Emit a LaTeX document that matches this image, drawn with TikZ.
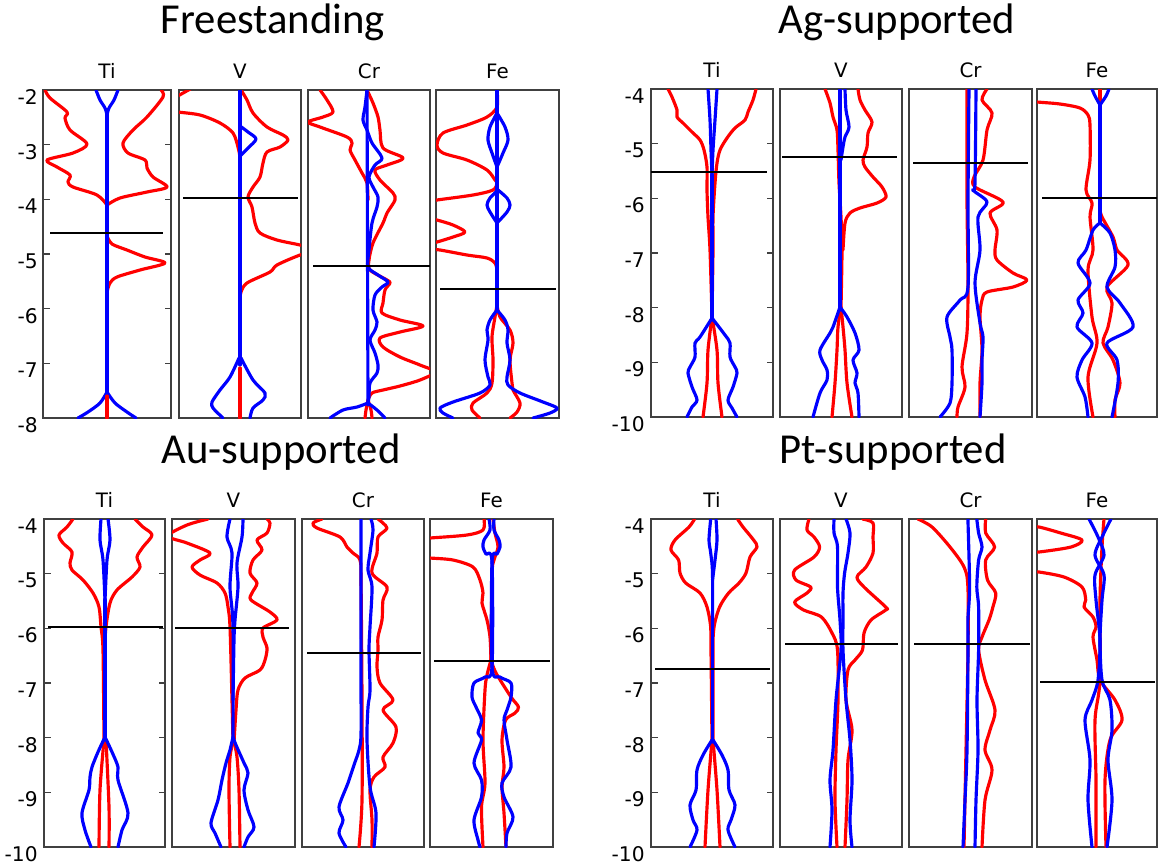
\documentclass[tikz,border=0pt]{standalone}
\usepackage{fontspec}
\setmainfont{DejaVu Sans}
\newfontfamily\headfont{Carlito}

\tikzset{
  spinup/.style={red, line width=1.8pt, line join=round, line cap=round},
  spindn/.style={blue, line width=1.8pt, line join=round, line cap=round},
  fermi/.style={black, line width=1.1pt},
  frame/.style={draw=black!75, line width=0.7pt},
  ticklab/.style={anchor=east, inner sep=0pt, font=\fontsize{11.5}{13}\selectfont},
  elem/.style={inner sep=0pt, font=\fontsize{11.3}{13}\selectfont},
  head/.style={anchor=base, inner sep=0pt, font=\headfont\fontsize{24.3}{28}\selectfont}
}

\begin{document}
\begin{tikzpicture}[x=0.02cm, y=-0.02cm]
\useasboundingbox (0,0) rectangle (1159,867);

% titles
\node[head] (tfree) at (273,33) {Freestanding};
\node[head] (tag) at (897,33) {Ag-supported};
\node[head] (tau) at (281,463) {Au-supported};
\node[head] (tpt) at (893,463) {Pt-supported};

% frames and element labels
\foreach \xa/\xb/\el/\nm in {43/171/Ti/a, 179/301/V/b, 308/430/Cr/c, 436/559/Fe/d}
  {\draw[frame] (\xa,90) rectangle (\xb,418);
   \node[elem] (fs-\nm) at ({(\xa+\xb)/2},71) {\el};}
\foreach \xa/\xb/\el/\nm in {651/773/Ti/a, 780/902/V/b, 909/1032/Cr/c, 1037/1157/Fe/d}
  {\draw[frame] (\xa,89) rectangle (\xb,417);
   \node[elem] (ag-\nm) at ({(\xa+\xb)/2},70) {\el};}
\foreach \xa/\xb/\el/\nm in {44/165/Ti/a, 172/295/V/b, 302/424/Cr/c, 430/553/Fe/d}
  {\draw[frame] (\xa,519) rectangle (\xb,847);
   \node[elem] (au-\nm) at ({(\xa+\xb)/2},500) {\el};}
\foreach \xa/\xb/\el/\nm in {651/773/Ti/a, 780/902/V/b, 909/1032/Cr/c, 1037/1157/Fe/d}
  {\draw[frame] (\xa,519) rectangle (\xb,847);
   \node[elem] (pt-\nm) at ({(\xa+\xb)/2},500) {\el};}

% energy axes
\foreach \e [count=\k from 0] in {-2,-3,-4,-5,-6,-7,-8}
  {\draw[frame] (43,{90+\k*54.67}) -- ++(7,0) (171,{90+\k*54.67}) -- ++(-6,0);
   \node[ticklab] (fs-y\k) at (38,{97+\k*54.67}) {\e};}
\foreach \e [count=\k from 0] in {-4,-5,-6,-7,-8,-9,-10}
  {\draw[frame] (651,{89+\k*54.67}) -- ++(7,0) (773,{89+\k*54.67}) -- ++(-6,0);
   \node[ticklab] (ag-y\k) at (645,{96+\k*54.67}) {\e};
   \draw[frame] (44,{519+\k*54.67}) -- ++(7,0) (165,{519+\k*54.67}) -- ++(-6,0);
   \node[ticklab] (au-y\k) at (38,{526+\k*54.67}) {\e};
   \draw[frame] (651,{519+\k*54.67}) -- ++(7,0) (773,{519+\k*54.67}) -- ++(-6,0);
   \node[ticklab] (pt-y\k) at (645,{526+\k*54.67}) {\e};}

%%%% Freestanding
% Ti
\begin{scope}
\clip (43,90) rectangle (171,418);
\draw[spinup] plot[smooth] coordinates {(45,90) (50,98) (67,112) (65,118) (70,130) (87,144) (73,153) (47,160) (57,167) (70,175) (68,182) (73,187) (97,195) (107,205)};
\draw[spinup] plot[smooth] coordinates {(161,90) (163,97) (147,117) (133,130) (123,143) (128,153) (145,160) (147,168) (153,177) (167,187) (147,192) (120,198) (107,205)};
\draw[spinup] plot[smooth] coordinates {(107,236) (112,244) (127,250) (145,257) (165,263) (140,270) (117,277) (110,283) (107,292)};
\draw[spindn] plot[smooth] coordinates {(96,90) (100,100) (105,108) (107,115)};
\draw[spindn] plot[smooth] coordinates {(118,90) (114,100) (109,108) (107,115)};
\draw[spindn] (107,112) -- (107,393);
\draw[spindn] plot[smooth] coordinates {(107,392) (100,403) (88,412) (78,418)};
\draw[spindn] plot[smooth] coordinates {(107,392) (115,403) (127,412) (136,418)};
\draw[spinup] (107,396) -- (107,418);
\end{scope}
\draw[fermi] (50,233) -- (163,233);
% V
\begin{scope}
\clip (179,90) rectangle (301,418);
\draw[spinup] (176,97) -- (192,88);
\draw[spinup] plot[smooth] coordinates {(175,111) (178,112) (200,115) (220,123) (233,133) (238,147) (240,157)};
\draw[spinup] plot[smooth] coordinates {(241,90) (247,100) (253,113) (267,127) (283,135) (288,140) (280,147) (267,152) (263,163) (260,177) (253,187) (248,197) (252,207) (255,223) (260,233) (277,240) (300,245) (318,250) (300,255) (277,265) (270,272) (247,283) (241,292) (240,300)};
\draw[spindn] (240,90) -- (240,365);
\draw[spindn] plot[smooth] coordinates {(240,126) (248,132) (256,139) (248,148) (240,156)};
\draw[spindn] plot[smooth] coordinates {(239,358) (230,377) (220,390) (212,402) (213,408) (223,418)};
\draw[spindn] plot[smooth] coordinates {(241,358) (253,380) (265,393) (263,400) (253,408) (250,418)};
\draw[spinup] (240,368) -- (240,418);
\end{scope}
\draw[fermi] (183,198) -- (298,198);
% Cr
\begin{scope}
\clip (308,90) rectangle (430,418);
\draw[spinup] plot[smooth] coordinates {(320,90) (327,100) (333,112) (323,117) (308,122) (320,127) (347,137) (352,143) (350,150) (355,160) (362,173) (367,183) (368,200)};
\draw[spinup] plot[smooth] coordinates {(367,90) (373,103) (378,117) (380,130) (383,148) (403,158) (387,165) (375,170) (380,180) (393,193) (395,200) (387,213) (383,223) (373,243) (369,260) (370,270) (387,280) (390,283) (385,290) (383,303) (382,313) (400,320) (423,326) (400,332) (380,338) (383,347) (400,357) (420,365) (435,372) (420,380) (400,386) (383,390) (372,393) (368,400)};
\draw[spinup] plot[smooth] coordinates {(368,400) (366,410) (365,418)};
\draw[spinup] plot[smooth] coordinates {(368,400) (371,410) (372,418)};
\draw[spindn] (367,90) -- (368,405);
\draw[spindn] plot[smooth] coordinates {(367,90) (365,107) (363,120) (367,130) (372,143) (382,158) (375,165) (369,177) (373,187) (378,197) (377,207) (372,223) (369,250) (368,267) (378,275) (388,282) (382,287) (375,295) (373,310) (377,322) (375,330) (370,340) (375,353) (378,365) (377,373) (370,383) (369,397) (368,403)};
\draw[spindn] plot[smooth] coordinates {(368,403) (357,407) (343,410) (330,418)};
\draw[spindn] plot[smooth] coordinates {(368,403) (377,410) (385,418)};
\end{scope}
\draw[fermi] (313,266) -- (430,266);
% Fe
\begin{scope}
\clip (436,90) rectangle (559,418);
\draw[spinup] plot[smooth] coordinates {(497,90) (497,107) (487,117) (467,125) (443,133) (437,145) (443,153) (467,160) (487,170) (495,180) (497,183) (493,190) (473,195) (437,200) (427,202)};
\draw[spinup] plot[smooth] coordinates {(425,217) (437,220) (453,225) (465,232) (453,237) (437,242) (425,245)};
\draw[spinup] plot[smooth] coordinates {(428,249) (440,250) (467,255) (487,258) (495,263) (497,270)};
\draw[spinup] plot[smooth] coordinates {(497,305) (495,317) (492,337) (493,360) (492,383) (487,393) (473,403) (472,410) (480,418)};
\draw[spinup] plot[smooth] coordinates {(497,305) (500,317) (510,330) (513,343) (510,360) (512,383) (513,390) (520,403) (517,412) (510,418)};
\draw[spindn] (497,90) -- (497,310);
\draw[spindn] plot[smooth] coordinates {(497,113) (490,127) (488,140) (492,153) (497,167)};
\draw[spindn] plot[smooth] coordinates {(497,113) (505,127) (508,140) (503,153) (497,167)};
\draw[spindn] plot[smooth] coordinates {(498,190) (490,198) (487,205) (490,212) (497,223)};
\draw[spindn] plot[smooth] coordinates {(498,190) (507,198) (510,205) (507,212) (497,223)};
\draw[spindn] plot[smooth] coordinates {(497,310) (490,320) (487,330) (488,340) (485,360) (488,377) (490,385) (480,393) (453,402) (440,408) (443,413) (453,418)};
\draw[spindn] plot[smooth] coordinates {(497,310) (505,320) (508,330) (507,343) (510,360) (507,377) (508,385) (520,393) (543,402) (557,408) (550,413) (533,418)};
\end{scope}
\draw[fermi] (440,289) -- (556,289);

%%%% Ag-supported
% Ti
\begin{scope}
\clip (651,89) rectangle (773,417);
\draw[spinup] plot[smooth] coordinates {(668,89) (672,97) (677,110) (677,117) (683,123) (692,132) (700,140) (704,150) (707,167) (707,190) (708,217) (710,250) (712,317)};
\draw[spinup] plot[smooth] coordinates {(756,89) (753,100) (748,112) (745,120) (735,128) (727,138) (720,150) (717,163) (715,183) (713,217) (713,250) (712,317)};
\draw[spinup] plot[smooth] coordinates {(712,317) (708,350) (707,383) (703,417)};
\draw[spinup] plot[smooth] coordinates {(712,317) (717,350) (718,383) (722,417)};
\draw[spindn] plot[smooth] coordinates {(708,89) (710,120) (711,150) (712,175)};
\draw[spindn] plot[smooth] coordinates {(717,89) (715,120) (713,150) (712,175)};
\draw[spindn] (712,175) -- (712,320);
\draw[spindn] plot[smooth] coordinates {(712,318) (700,337) (695,343) (695,357) (690,367) (688,373) (692,387) (697,400) (692,407) (687,417)};
\draw[spindn] plot[smooth] coordinates {(712,318) (725,335) (730,343) (730,357) (735,367) (737,373) (733,387) (728,400) (732,408) (737,417)};
\end{scope}
\draw[fermi] (651,172) -- (767,172);
% V
\begin{scope}
\clip (780,89) rectangle (902,417);
\draw[spinup] plot[smooth] coordinates {(825,89) (830,103) (833,117) (837,130) (838,150) (839,183) (841,217) (842,250) (841,307)};
\draw[spinup] plot[smooth] coordinates {(858,89) (860,100) (865,110) (872,122) (868,133) (867,147) (863,160) (865,167) (873,177) (882,187) (886,197) (877,203) (860,208) (850,213) (845,223) (843,250)};
\draw[spinup] plot[smooth] coordinates {(841,307) (838,327) (837,350) (835,383) (832,417)};
\draw[spinup] plot[smooth] coordinates {(841,307) (843,327) (845,350) (847,383) (852,417)};
\draw[spindn] (840,89) -- (840,310);
\draw[spindn] plot[smooth] coordinates {(845,89) (846,110) (849,127) (845,137) (843,147) (841,160)};
\draw[spindn] plot[smooth] coordinates {(840,307) (833,327) (830,333) (820,350) (822,360) (827,370) (827,380) (820,393) (813,417)};
\draw[spindn] plot[smooth] coordinates {(840,307) (847,317) (855,333) (859,350) (853,360) (857,373) (855,383) (858,393) (859,417)};
\end{scope}
\draw[fermi] (782,157) -- (897,157);
% Cr
\begin{scope}
\clip (909,89) rectangle (1032,417);
\draw[spinup] plot[smooth] coordinates {(967,89) (967,200) (968,283) (967,333) (962,367) (965,387) (958,407) (957,417)};
\draw[spinup] plot[smooth] coordinates {(987,89) (982,100) (992,113) (987,130) (983,160) (974,177) (975,187) (1003,202) (990,213) (997,230) (995,250) (997,260) (1013,273) (1027,280) (1013,287) (987,292) (982,300) (980,317) (982,350) (980,383) (980,417)};
\draw[spindn] plot[smooth] coordinates {(969,89) (968,200) (968,287) (960,300) (947,317) (950,337) (952,350) (952,383) (950,403) (940,417)};
\draw[spindn] plot[smooth] coordinates {(976,89) (975,183) (973,190) (987,202) (978,217) (980,250) (975,283) (980,323) (983,337) (982,360) (982,383) (980,417)};
\end{scope}
\draw[fermi] (913,163) -- (1028,163);
% Fe
\begin{scope}
\clip (1037,89) rectangle (1157,417);
\draw[spinup] (1100,89) -- (1100,217);
\draw[spinup] plot[smooth] coordinates {(1028,101) (1037,102) (1060,104) (1080,108) (1088,115) (1090,125) (1090,160) (1086,190) (1092,203) (1090,217) (1093,250) (1088,270) (1092,317) (1097,343) (1088,377) (1093,417)};
\draw[spinup] plot[smooth] coordinates {(1100,210) (1102,217) (1113,237) (1117,250) (1128,265) (1107,287) (1112,303) (1108,327) (1103,343) (1113,360) (1120,383) (1115,400) (1115,417)};
\draw[spindn] plot[smooth] coordinates {(1092,89) (1095,96) (1100,105)};
\draw[spindn] plot[smooth] coordinates {(1109,89) (1106,96) (1100,105)};
\draw[spindn] (1100,105) -- (1100,223);
\draw[spindn] plot[smooth] coordinates {(1100,223) (1093,230) (1086,250) (1078,263) (1090,283) (1078,300) (1083,313) (1077,327) (1092,343) (1082,360) (1077,377) (1085,397) (1088,417)};
\draw[spindn] plot[smooth] coordinates {(1100,223) (1110,233) (1115,250) (1115,267) (1107,287) (1120,303) (1133,327) (1107,343) (1117,360) (1118,383) (1112,417)};
\end{scope}
\draw[fermi] (1042,198) -- (1157,198);

%%%% Au-supported
% Ti
\begin{scope}
\clip (44,519) rectangle (165,847);
\draw[spinup] plot[smooth] coordinates {(73,519) (67,527) (59,535) (63,543) (72,552) (70,563) (72,570) (83,580) (93,593) (99,607) (101,627) (103,650) (104,740)};
\draw[spinup] plot[smooth] coordinates {(135,519) (143,527) (152,535) (143,547) (137,557) (140,567) (132,577) (117,590) (110,603) (106,627) (105,650) (105,740)};
\draw[spinup] plot[smooth] coordinates {(104,740) (100,790) (99,847)};
\draw[spinup] plot[smooth] coordinates {(106,740) (109,807) (109,847)};
\draw[spindn] plot[smooth] coordinates {(101,519) (100,540) (103,560) (105,600)};
\draw[spindn] plot[smooth] coordinates {(108,519) (110,540) (107,560) (105,600)};
\draw[spindn] (105,600) -- (105,740);
\draw[spindn] plot[smooth] coordinates {(105,737) (98,752) (92,767) (90,777) (89,790) (82,813) (85,830) (91,847)};
\draw[spindn] plot[smooth] coordinates {(105,737) (112,752) (118,767) (118,780) (128,813) (122,830) (118,847)};
\end{scope}
\draw[fermi] (48,627) -- (163,627);
% V
\begin{scope}
\clip (172,519) rectangle (295,847);
\draw[spinup] plot[smooth] coordinates {(208,519) (187,525) (168,536) (187,543) (210,553) (200,560) (192,567) (200,575) (217,583) (225,593) (228,607) (230,627) (232,700) (233,742)};
\draw[spinup] plot[smooth] coordinates {(267,519) (270,523) (267,533) (257,540) (262,550) (253,560) (250,573) (257,583) (252,593) (251,600) (270,612) (277,620) (263,628) (263,637) (267,648) (265,660) (260,670) (245,678) (238,690) (236,710) (234,742)};
\draw[spinup] plot[smooth] coordinates {(233,742) (230,757) (229,790) (230,847)};
\draw[spinup] plot[smooth] coordinates {(234,742) (237,757) (239,790) (240,847)};
\draw[spindn] plot[smooth] coordinates {(230,519) (227,537) (232,553) (230,587) (233,627) (233,737)};
\draw[spindn] plot[smooth] coordinates {(243,519) (242,537) (237,563) (238,587) (235,620) (234,640) (233,700)};
\draw[spindn] plot[smooth] coordinates {(233,737) (230,750) (226,763) (222,780) (218,800) (211,823) (215,833) (221,847)};
\draw[spindn] plot[smooth] coordinates {(233,737) (236,745) (244,763) (248,773) (244,790) (248,810) (254,827) (248,837) (244,847)};
\end{scope}
\draw[fermi] (175,628) -- (289,628);
% Cr
\begin{scope}
\clip (302,519) rectangle (424,847);
\draw[spinup] plot[smooth] coordinates {(322,519) (313,523) (317,528) (340,537) (347,547) (353,553) (360,560) (361,580) (362,700) (362,800) (359,847)};
\draw[spinup] plot[smooth] coordinates {(378,519) (387,528) (378,537) (377,553) (372,573) (387,587) (383,600) (382,620) (378,637) (378,650) (377,667) (380,683) (393,700) (383,710) (396,727) (393,743) (383,757) (385,767) (374,777) (370,790) (372,820) (372,847)};
\draw[spindn] plot[smooth] coordinates {(361,519) (361,600) (361,680) (361,735) (359,750) (354,765) (348,783) (339,807) (343,820) (339,833) (346,847)};
\draw[spindn] plot[smooth] coordinates {(371,519) (373,530) (370,553) (368,570) (372,587) (370,627) (369,650) (370,690) (368,707) (367,740) (370,787) (376,813) (374,847)};
\end{scope}
\draw[fermi] (307,653) -- (421,653);
% Fe
\begin{scope}
\clip (430,519) rectangle (553,847);
\draw[spinup] plot[smooth] coordinates {(484,519) (483,530) (467,535) (430,538) (420,539)};
\draw[spinup] plot[smooth] coordinates {(420,557) (430,558) (453,560) (473,567) (480,580) (483,593) (482,603) (487,620) (490,637) (491,660)};
\draw[spinup] plot[smooth] coordinates {(493,519) (495,533) (498,547) (494,560) (492,575) (491,660)};
\draw[spinup] plot[smooth] coordinates {(491,660) (487,675) (485,690) (483,740) (485,783) (481.5,807) (483,847)};
\draw[spinup] plot[smooth] coordinates {(491,660) (496,673) (511,697) (518.5,707) (515,713) (505.6,720) (502,740) (504,767) (502,787) (504,813) (506,847)};
\draw[spindn] plot[smooth] coordinates {(489,519) (490,530) (484,540) (483,547) (486,554) (492,562) (492,667) (485,677) (474,683) (472,697) (476,707) (481.5,720) (478,733) (481.5,740) (474,763) (481.5,780) (481.5,797) (474,820) (478,840) (480,847)};
\draw[spindn] plot[smooth] coordinates {(494,519) (494,530) (499,540) (500,547) (497,554) (492,562) (492,667) (500,677) (511,683) (511,697) (507,710) (504,720) (507,740) (511,767) (502,783) (504,797) (513,817) (507,833) (506,847)};
\end{scope}
\draw[fermi] (434,661) -- (550,661);

%%%% Pt-supported
% Ti
\begin{scope}
\clip (651,519) rectangle (773,847);
\draw[spinup] plot[smooth] coordinates {(694.6,519) (689,527) (675,540) (671,550) (678.6,560) (680,573) (685.7,583) (700,593) (707,607) (710.7,627) (711,650) (712,740)};
\draw[spinup] plot[smooth] coordinates {(737.5,519) (743,527) (753.6,540) (757,547) (750,557) (746,573) (739,583) (728.6,593) (719.6,607) (714,627) (713,650) (713,740)};
\draw[spinup] plot[smooth] coordinates {(712,740) (708,790) (705,847)};
\draw[spinup] plot[smooth] coordinates {(713,740) (717,790) (720,847)};
\draw[spindn] plot[smooth] coordinates {(710.7,519) (709,540) (710.7,553) (712.5,573) (712.5,627)};
\draw[spindn] plot[smooth] coordinates {(716,519) (717,540) (715,560) (712.5,580)};
\draw[spindn] (712.5,580) -- (712.5,742);
\draw[spindn] plot[smooth] coordinates {(712,740) (703,755) (697,770) (696,790) (690,805) (693,820) (697,830) (690,847)};
\draw[spindn] plot[smooth] coordinates {(713,740) (722,755) (728,770) (729,790) (735,805) (731,820) (728,830) (735,847)};
\end{scope}
\draw[fermi] (655,669) -- (770,669);
% V
\begin{scope}
\clip (780,519) rectangle (902,847);
\draw[spinup] plot[smooth] coordinates {(809,519) (807,530) (814,537) (819.6,547) (814,557) (794.6,570) (796,580) (810.7,587) (807,593) (794.6,602) (803.6,610) (821.4,617) (832,633) (837.5,650) (838,700) (836,750) (835,800) (837,847)};
\draw[spinup] plot[smooth] coordinates {(862.5,519) (873,523) (873,537) (873,553) (866,567) (857,577) (864,587) (885.7,607) (885.7,610) (871,620) (864,633) (862.5,650) (855,660) (848,670) (846,700) (852,730) (848,760) (847,800) (845,847)};
\draw[spindn] plot[smooth] coordinates {(834,519) (834,533) (837.5,547) (837.5,587) (840,620) (841,650) (836,700) (833,750) (830,780) (832,810) (830,847)};
\draw[spindn] plot[smooth] coordinates {(846,519) (850,533) (848,553) (844.6,573) (843,593) (843,620) (843,650) (846,700) (850,740) (852,780) (850,820) (852,847)};
\end{scope}
\draw[fermi] (785,644) -- (898,644);
% Cr
\begin{scope}
\clip (909,519) rectangle (1032,847);
\draw[spinup] plot[smooth] coordinates {(917.9,519) (932,527) (950,547) (964,567) (967.9,587) (968,650) (966,750) (964,847)};
\draw[spinup] plot[smooth] coordinates {(985.7,519) (985.7,533) (994.6,547) (985.7,560) (987.5,580) (995.7,593) (992.9,607) (989,620) (982,637) (978.6,650) (985,680) (995,710) (990,730) (985,750) (992,770) (985,800) (982,847)};
\draw[spindn] plot[smooth] coordinates {(967.9,519) (969.6,587) (967.9,620) (968,650) (967,750) (965,800) (963,847)};
\draw[spindn] plot[smooth] coordinates {(976.8,519) (978.6,533) (982,547) (978.6,560) (976.8,587) (978.6,607) (978.6,650) (977,700) (978,750) (976,800) (975,847)};
\end{scope}
\draw[fermi] (914,644) -- (1030,644);
% Fe
\begin{scope}
\clip (1037,519) rectangle (1157,847);
\draw[spinup] plot[smooth] coordinates {(1030,527) (1039,527) (1060.7,533) (1082,540) (1071,547) (1039,552) (1030,552)};
\draw[spinup] plot[smooth] coordinates {(1030,572) (1039,572) (1064,577) (1082,587) (1085.7,600) (1084,607) (1093,617) (1096,627) (1093,637) (1097,660) (1100,680) (1115,700) (1122,720) (1110,740) (1105,780) (1106,847)};
\draw[spinup] plot[smooth] coordinates {(1104,519) (1102,547) (1100,600) (1100,680) (1095,720) (1096,780) (1096,847)};
\draw[spindn] plot[smooth] coordinates {(1089,519) (1098,537) (1104,555) (1095,575) (1096,600) (1100,640) (1098,680) (1092,700) (1085,720) (1090,760) (1088,800) (1092,847)};
\draw[spindn] plot[smooth] coordinates {(1111,519) (1103,535) (1095,555) (1104,575) (1102,600) (1100,640) (1102,680) (1110,700) (1112,730) (1108,760) (1112,800) (1107,847)};
\end{scope}
\draw[fermi] (1040,682) -- (1155,682);

\end{tikzpicture}
\end{document}
